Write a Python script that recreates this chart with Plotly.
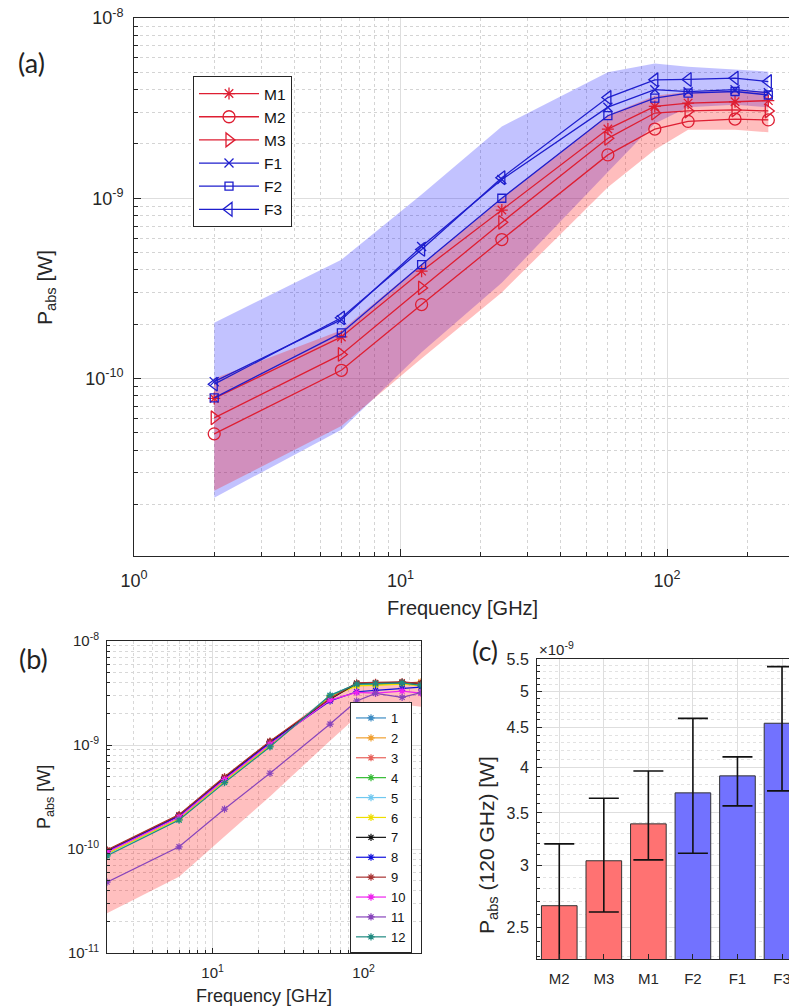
import plotly.graph_objects as go

W, H = 789, 1008

# ---------------- data: panel (a) ----------------
freq = [2, 6, 12, 24, 60, 90, 120, 180, 240]
M1 = [7.75e-11, 1.70e-10, 3.94e-10, 8.6e-10, 2.42e-9, 3.23e-9, 3.37e-9, 3.43e-9, 3.48e-9]
M2 = [4.93e-11, 1.11e-10, 2.57e-10, 5.9e-10, 1.74e-9, 2.42e-9, 2.67e-9, 2.75e-9, 2.72e-9]
M3 = [6.05e-11, 1.36e-10, 3.18e-10, 7.35e-10, 2.15e-9, 2.97e-9, 3.05e-9, 3.09e-9, 3.05e-9]
F1 = [9.6e-11, 2.12e-10, 5.4e-10, 1.27e-9, 3.2e-9, 4.0e-9, 3.9e-9, 4.0e-9, 3.85e-9]
F2 = [7.8e-11, 1.79e-10, 4.28e-10, 1.0e-9, 2.87e-9, 3.59e-9, 3.83e-9, 3.91e-9, 3.74e-9]
F3 = [9.3e-11, 2.17e-10, 5.2e-10, 1.3e-9, 3.62e-9, 4.54e-9, 4.56e-9, 4.64e-9, 4.44e-9]
M_lo = [2.38e-11, 5.45e-11, 1.29e-10, 3.0e-10, 1.15e-9, 1.86e-9, 2.4e-9, 2.4e-9, 2.32e-9]
M_hi = [1.0e-10, 1.85e-10, 4.3e-10, 1.0e-9, 2.9e-9, 3.7e-9, 3.9e-9, 3.95e-9, 3.9e-9]
F_lo = [2.18e-11, 5.2e-11, 1.4e-10, 3.4e-10, 1.4e-9, 2.6e-9, 3.2e-9, 3.3e-9, 3.2e-9]
F_hi = [2.04e-10, 4.56e-10, 1.05e-9, 2.5e-9, 5.0e-9, 5.6e-9, 5.37e-9, 5.15e-9, 5.04e-9]

# ---------------- data: panel (b) ----------------
b_names = ["1", "2", "3", "4", "5", "6", "7", "8", "9", "10", "11", "12"]
b1 = [8.8e-11, 1.92e-10, 4.45e-10, 9.8e-10, 2.95e-9, 3.85e-9, 3.85e-9, 3.9e-9, 3.75e-9]
b2 = [9.5e-11, 2.08e-10, 4.8e-10, 1.06e-9, 2.85e-9, 3.75e-9, 3.8e-9, 3.9e-9, 4.05e-9]
b3 = [9.7e-11, 2.12e-10, 4.9e-10, 1.08e-9, 2.8e-9, 3.9e-9, 3.95e-9, 4.0e-9, 3.95e-9]
b4 = [8.9e-11, 1.93e-10, 4.45e-10, 9.8e-10, 2.9e-9, 3.8e-9, 3.85e-9, 3.9e-9, 3.8e-9]
b5 = [8.8e-11, 1.92e-10, 4.4e-10, 9.7e-10, 3.0e-9, 3.85e-9, 3.9e-9, 3.95e-9, 3.8e-9]
b6 = [9.0e-11, 1.95e-10, 4.5e-10, 9.9e-10, 2.9e-9, 3.7e-9, 3.75e-9, 3.85e-9, 3.7e-9]
b7 = [9.6e-11, 2.1e-10, 4.85e-10, 1.07e-9, 2.75e-9, 3.9e-9, 3.95e-9, 4.0e-9, 3.9e-9]
b8 = [9.5e-11, 2.08e-10, 4.75e-10, 1.05e-9, 2.65e-9, 3.25e-9, 3.35e-9, 3.5e-9, 3.6e-9]
b9 = [9.8e-11, 2.14e-10, 4.95e-10, 1.09e-9, 2.8e-9, 3.95e-9, 4.0e-9, 4.05e-9, 3.9e-9]
b10 = [9.3e-11, 2.02e-10, 4.65e-10, 1.02e-9, 2.7e-9, 3.2e-9, 3.15e-9, 3.3e-9, 3.15e-9]
b11 = [4.8e-11, 1.05e-10, 2.42e-10, 5.35e-10, 1.59e-9, 2.65e-9, 3.14e-9, 2.87e-9, 3.19e-9]
b12 = [8.6e-11, 1.9e-10, 4.35e-10, 9.6e-10, 3.0e-9, 3.85e-9, 3.9e-9, 3.95e-9, 3.75e-9]
b_band_lo = [2.41e-11, 5.42e-11, 1.32e-10, 3.2e-10, 1.1e-9, 1.87e-9, 2.33e-9, 2.45e-9, 2.33e-9]
b_band_hi = [9.8e-11, 2.14e-10, 4.95e-10, 1.09e-9, 3.0e-9, 3.95e-9, 4.0e-9, 4.05e-9, 4.05e-9]
b_series = [b1, b2, b3, b4, b5, b6, b7, b8, b9, b10, b11, b12]
b_colors = ["#3d8cc4", "#f0a032", "#e8615a", "#33bb33", "#70c8f0", "#eedd00",
            "#111111", "#1010dd", "#a83232", "#ee22ee", "#8844bb", "#1f8a80"]

# ---------------- data: panel (c) ----------------
c_cats = ["M2", "M3", "M1", "F2", "F1", "F3"]
c_val = [2.666, 3.042, 3.390, 3.713, 3.903, 4.555]      # x 1e-9 W
c_hi = [3.197, 3.655, 3.96, 4.62, 4.127, 5.378]
c_lo = [2.20, 2.617, 3.05, 3.11, 3.574, 3.735]
c_colors = ["#ff7272", "#ff7272", "#ff7272", "#7272ff", "#7272ff", "#7272ff"]

FONT = "Liberation Sans, Arial, sans-serif"
AX = "#262626"
RED = "rgb(222,30,50)"
BLUE = "rgb(30,30,205)"


def px(x):
    return x / W


def py(y):
    return 1 - y / H


fig = go.Figure()

# panel (a) bands
fig.add_trace(go.Scatter(x=freq + freq[::-1], y=F_hi + F_lo[::-1], fill="toself",
                         fillcolor="rgba(0,0,255,0.24)", line=dict(width=0),
                         mode="lines", showlegend=False, hoverinfo="skip",
                         xaxis="x", yaxis="y"))
fig.add_trace(go.Scatter(x=freq + freq[::-1], y=M_hi + M_lo[::-1], fill="toself",
                         fillcolor="rgba(255,0,0,0.26)", line=dict(width=0),
                         mode="lines", showlegend=False, hoverinfo="skip",
                         xaxis="x", yaxis="y"))

a_series = [("M1", M1, RED, "asterisk-open", 10),
            ("M2", M2, RED, "circle-open", 12),
            ("M3", M3, RED, "triangle-right-open", 12),
            ("F1", F1, BLUE, "x-thin-open", 9),
            ("F2", F2, BLUE, "square-open", 8),
            ("F3", F3, BLUE, "triangle-left-open", 12)]
for name, ys, col, sym, sz in a_series:
    fig.add_trace(go.Scatter(x=freq, y=ys, name=name, mode="lines+markers",
                             line=dict(color=col, width=1.3),
                             marker=dict(symbol=sym, size=sz, color=col,
                                         line=dict(color=col, width=1.3)),
                             xaxis="x", yaxis="y", legend="legend"))

# panel (b)
fig.add_trace(go.Scatter(x=freq + freq[::-1], y=b_band_hi + b_band_lo[::-1], fill="toself",
                         fillcolor="rgba(255,0,0,0.25)", line=dict(width=0),
                         mode="lines", showlegend=False, hoverinfo="skip",
                         xaxis="x2", yaxis="y2"))
for name, ys, col in zip(b_names, b_series, b_colors):
    fig.add_trace(go.Scatter(x=freq, y=ys, name=name, mode="lines+markers",
                             line=dict(color=col, width=1.2),
                             marker=dict(symbol="asterisk-open", size=6, color=col,
                                         line=dict(color=col, width=1.2)),
                             xaxis="x2", yaxis="y2", legend="legend2"))

# panel (c)
fig.add_trace(go.Bar(x=c_cats, y=c_val, width=0.8,
                     marker=dict(color=c_colors, line=dict(color="#333333", width=1)),
                     error_y=dict(type="data", symmetric=False,
                                  array=[h - v for h, v in zip(c_hi, c_val)],
                                  arrayminus=[v - l for v, l in zip(c_val, c_lo)],
                                  color="#111111", thickness=1.6, width=15),
                     showlegend=False, xaxis="x3", yaxis="y3"))

minor_dec = [m * 10 ** e for e in range(-12, 4) for m in range(2, 10)]
tickfont_a = dict(family=FONT, size=18, color=AX)
tickfont_b = dict(family=FONT, size=15, color=AX)


def sup(e):
    return "10<sup>%d</sup>" % e


common = dict(showline=True, linecolor=AX, linewidth=1, ticks="inside", tickcolor=AX,
              showgrid=True, gridcolor="#dedede", gridwidth=1, zeroline=False,
              automargin=False)

fig.update_layout(
    template="none",
    width=W, height=H, autosize=False,
    margin=dict(l=0, r=0, t=0, b=0, pad=0),
    paper_bgcolor="white", plot_bgcolor="white",
    font=dict(family=FONT, color=AX),
    xaxis=dict(type="log", domain=[px(134), 1.0], range=[0, 2.4578], anchor="y",
               tickvals=[1, 10, 100, 1000], ticktext=[sup(0), sup(1), sup(2), sup(3)],
               tickfont=tickfont_a, ticklen=7, mirror=True, ticklabelstandoff=8,
               minor=dict(tickvals=minor_dec, ticks="inside", ticklen=4, tickcolor=AX,
                          showgrid=True, gridcolor="#d4d4d4", griddash="dot"),
               **common),
    yaxis=dict(type="log", domain=[py(556), py(18)], range=[-10.985, -8], anchor="x",
               tickvals=[1e-11, 1e-10, 1e-9, 1e-8],
               ticktext=[sup(-11), sup(-10), sup(-9), sup(-8)],
               tickfont=tickfont_a, ticklen=7, mirror=False, ticklabelstandoff=6,
               minor=dict(tickvals=minor_dec, ticks="inside", ticklen=4, tickcolor=AX,
                          showgrid=True, gridcolor="#d4d4d4", griddash="dot"),
               **common),
    xaxis2=dict(type="log", domain=[px(107), px(421)], range=[0.30103, 2.3802], anchor="y2",
                tickvals=[10, 100], ticktext=[sup(1), sup(2)],
                tickfont=tickfont_b, ticklen=5, mirror=True, ticklabelstandoff=6,
                minor=dict(tickvals=minor_dec, ticks="inside", ticklen=3, tickcolor=AX,
                           showgrid=True, gridcolor="#d8d8d8", griddash="dot"),
                **common),
    yaxis2=dict(type="log", domain=[py(953), py(641)], range=[-11, -8], anchor="x2",
                tickvals=[1e-11, 1e-10, 1e-9, 1e-8],
                ticktext=[sup(-11), sup(-10), sup(-9), sup(-8)],
                tickfont=tickfont_b, ticklen=5, mirror=True, ticklabelstandoff=4,
                minor=dict(tickvals=minor_dec, ticks="inside", ticklen=3, tickcolor=AX,
                           showgrid=True, gridcolor="#d8d8d8", griddash="dot"),
                **common),
    xaxis3=dict(type="category", domain=[px(537), 1.0], range=[-0.5, 5.157], anchor="y3",
                tickfont=dict(family=FONT, size=15, color=AX), ticklen=5, mirror=True,
                ticklabelstandoff=6, **common),
    yaxis3=dict(type="log", domain=[py(959), py(659)], range=[0.3579, 0.7404], anchor="x3",
                tickvals=[2.5, 3, 3.5, 4, 4.5, 5, 5.5],
                ticktext=["2.5", "3", "3.5", "4", "4.5", "5", "5.5"],
                tickfont=dict(family=FONT, size=16, color=AX), ticklen=5, mirror=False,
                ticklabelstandoff=4,
                minor=dict(tickvals=[2.3, 2.4, 2.6, 2.7, 2.8, 2.9, 3.1, 3.2, 3.3, 3.4, 3.6,
                                     3.7, 3.8, 3.9, 4.1, 4.2, 4.3, 4.4, 4.6, 4.7, 4.8, 4.9,
                                     5.1, 5.2, 5.3, 5.4],
                           ticks="inside", ticklen=3, tickcolor=AX,
                           showgrid=True, gridcolor="#e2e2e2", griddash="dot"),
                **common),
    legend=dict(x=px(193), y=py(76), xanchor="left", yanchor="top",
                bordercolor=AX, borderwidth=1, bgcolor="white", itemwidth=60,
                font=dict(family=FONT, size=15.5, color="#111111"), tracegroupgap=0),
    legend2=dict(x=px(350), y=py(953), xanchor="left", yanchor="bottom",
                 bordercolor=AX, borderwidth=1, bgcolor="white",
                 font=dict(family=FONT, size=13, color="#111111"), tracegroupgap=0),
)

ann = [
    dict(text="(a)", x=px(31), y=py(62), font=dict(family="Lato", size=27, color="#222")),
    dict(text="(b)", x=px(33), y=py(658), font=dict(family="Lato", size=27, color="#222")),
    dict(text="(c)", x=px(485), y=py(650), font=dict(family="Lato", size=27, color="#222")),
    dict(text="Frequency [GHz]", x=px(463), y=py(608), font=dict(family=FONT, size=20, color=AX)),
    dict(text="P<sub>abs</sub> [W]", x=px(46), y=py(288), textangle=-90,
         font=dict(family=FONT, size=21, color=AX)),
    dict(text="Frequency [GHz]", x=px(264), y=py(996), font=dict(family=FONT, size=18, color=AX)),
    dict(text="P<sub>abs</sub> [W]", x=px(45), y=py(797), textangle=-90,
         font=dict(family=FONT, size=18, color=AX)),
    dict(text="P<sub>abs</sub> (120 GHz) [W]", x=px(488), y=py(845), textangle=-90,
         font=dict(family=FONT, size=21, color=AX)),
    dict(text="\u00d710<sup>-9</sup>", x=px(537), y=py(648), xanchor="left",
         font=dict(family=FONT, size=15, color=AX)),
]
for a in ann:
    a.setdefault("xanchor", "center")
    a.update(xref="paper", yref="paper", yanchor="middle", showarrow=False)
fig.update_layout(annotations=ann)

fig.write_html("out.html", config={"displayModeBar": False},
               post_script="document.body.style.margin='0';"
                           "document.body.style.overflow='hidden';")
